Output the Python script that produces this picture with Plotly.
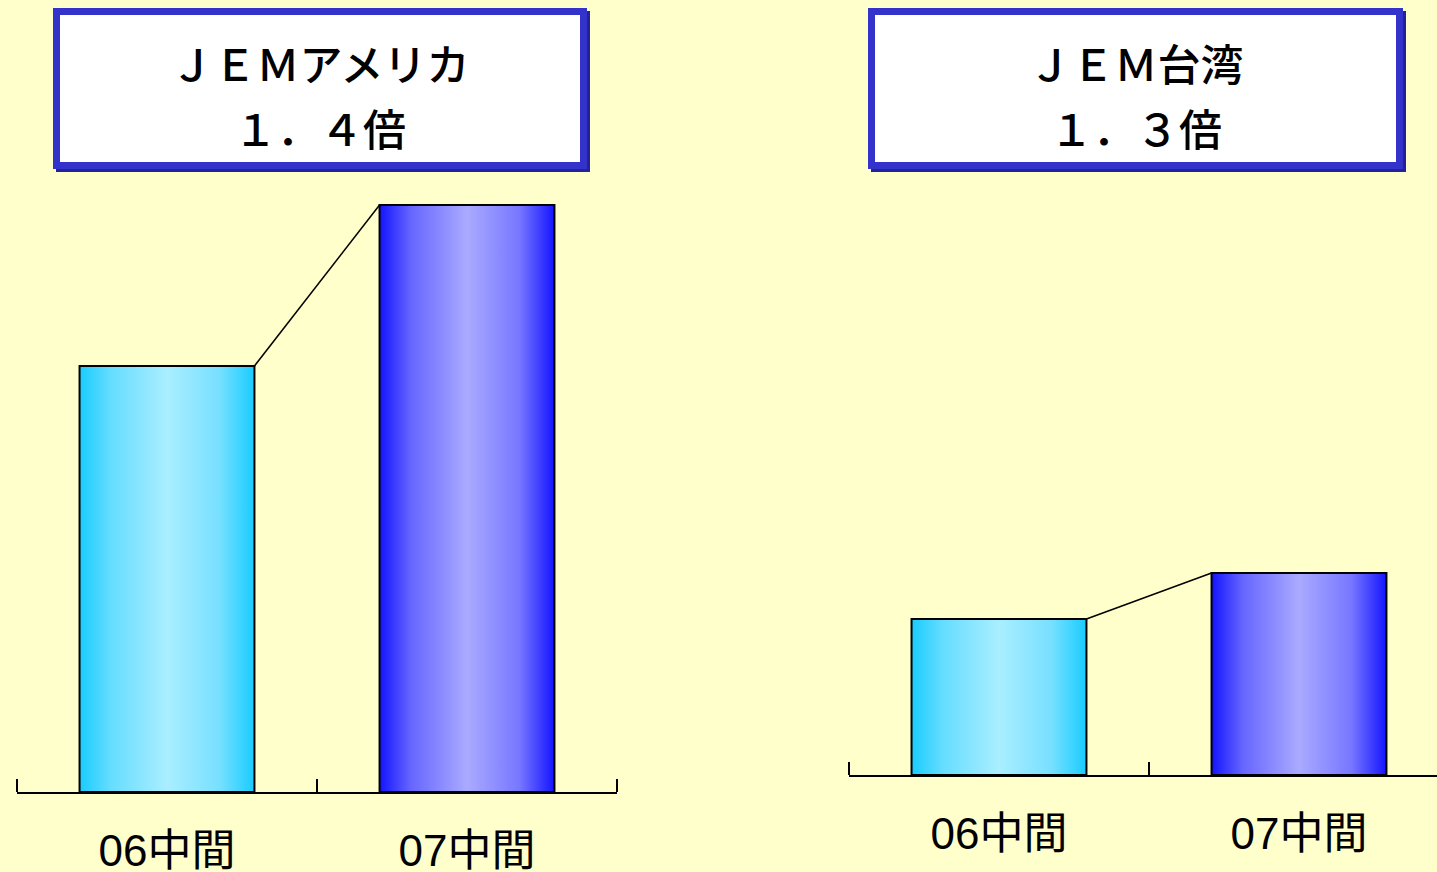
import plotly.graph_objects as go

W, H = 1437, 872

# ---- data ----
categories = ["06中間", "07中間"]
america_values = [426, 587]
taiwan_values = [156, 202]
america_title = ["ＪＥＭアメリカ", "１．４倍"]
taiwan_title = ["ＪＥＭ台湾", "１．３倍"]

BAR_W = 0.583
BG = "#FFFFCC"
SCALES = [
    [[0, "#18CCFF"], [0.18, "#66DDFF"], [0.5, "#AAEEFF"], [0.8, "#77E0FF"], [1, "#18CCFF"]],
    [[0, "#1414FF"], [0.18, "#6666FF"], [0.5, "#AAAAFF"], [0.8, "#7777FF"], [1, "#1414FF"]],
]

def px_x(p):
    return p / W

def px_y(p):
    return (H - p) / H

fig = go.Figure()

def add_panel(values, xa, ya):
    for i, v in enumerate(values):
        x0, x1 = i - BAR_W / 2, i + BAR_W / 2
        fig.add_trace(go.Scatter(
            x=[x0, x0, x1, x1, x0], y=[0, v, v, 0, 0],
            mode="lines", fill="toself",
            fillgradient=dict(type="horizontal", colorscale=SCALES[i]),
            line=dict(color="black", width=2),
            xaxis=xa, yaxis=ya, showlegend=False, hoverinfo="skip",
        ))
    # connector between bar tops
    fig.add_trace(go.Scatter(
        x=[0 + BAR_W / 2, 1 - BAR_W / 2], y=[values[0], values[1]],
        mode="lines", line=dict(color="black", width=1.5),
        xaxis=xa, yaxis=ya, showlegend=False, hoverinfo="skip",
    ))

add_panel(america_values, "x", "y")
add_panel(taiwan_values, "x2", "y2")

xcommon = dict(
    showline=True, linecolor="black", linewidth=2,
    showgrid=False, zeroline=False, automargin=False,
    tickmode="array", tickvals=[0, 1], ticktext=categories,
    ticks="", ticklabelstandoff=19,
    tickfont=dict(family="Liberation Sans, Noto Sans CJK JP", size=44, color="black"),
    minor=dict(tickmode="array", tickvals=[-0.5, 0.5, 1.5], ticks="inside",
               ticklen=13, tickwidth=1.5, tickcolor="black", showgrid=False),
    fixedrange=True,
)
ycommon = dict(visible=False, range=[0, 600], fixedrange=True, automargin=False)

fig.update_layout(
    width=W, height=H,
    margin=dict(l=0, r=0, t=0, b=0, autoexpand=False),
    paper_bgcolor=BG, plot_bgcolor="rgba(0,0,0,0)",
    xaxis=dict(xcommon, domain=[px_x(17), px_x(617)], range=[-0.5, 1.5], anchor="y"),
    yaxis=dict(ycommon, domain=[px_y(792), px_y(192)], anchor="x"),
    xaxis2=dict(xcommon, domain=[px_x(849), 1], range=[-0.5, -0.5 + 588 / 300], anchor="y2"),
    yaxis2=dict(ycommon, domain=[px_y(775), px_y(175)], anchor="x2"),
)

def add_box(x0, x1, y0, y1, lines):
    # shadow
    fig.add_shape(type="rect", xref="paper", yref="paper",
                  x0=px_x(x0 + 3), x1=px_x(x1 + 3), y0=px_y(y1 + 3), y1=px_y(y0 + 3),
                  fillcolor="#22229A", line=dict(width=0), layer="above")
    fig.add_shape(type="rect", xref="paper", yref="paper",
                  x0=px_x(x0 + 3.5), x1=px_x(x1 - 3.5), y0=px_y(y1 - 3.5), y1=px_y(y0 + 3.5),
                  fillcolor="white", line=dict(color="#3333CC", width=7), layer="above")
    cx = (x0 + x1) / 2
    for txt, cy in zip(lines, [62, 127]):
        fig.add_annotation(xref="paper", yref="paper",
                           x=px_x(cx), y=px_y(cy),
                           xanchor="center", yanchor="middle",
                           width=480, height=58,
                           text=txt, showarrow=False,
                           font=dict(family="Noto Sans CJK JP", size=43, color="black",
                                     weight=500),
                           align="center", valign="middle")

add_box(53, 587, 8, 169, america_title)
add_box(868, 1403, 8, 169, taiwan_title)

fig.write_html("out.html", config={"displayModeBar": False},
               post_script="document.body.style.margin='0';")
